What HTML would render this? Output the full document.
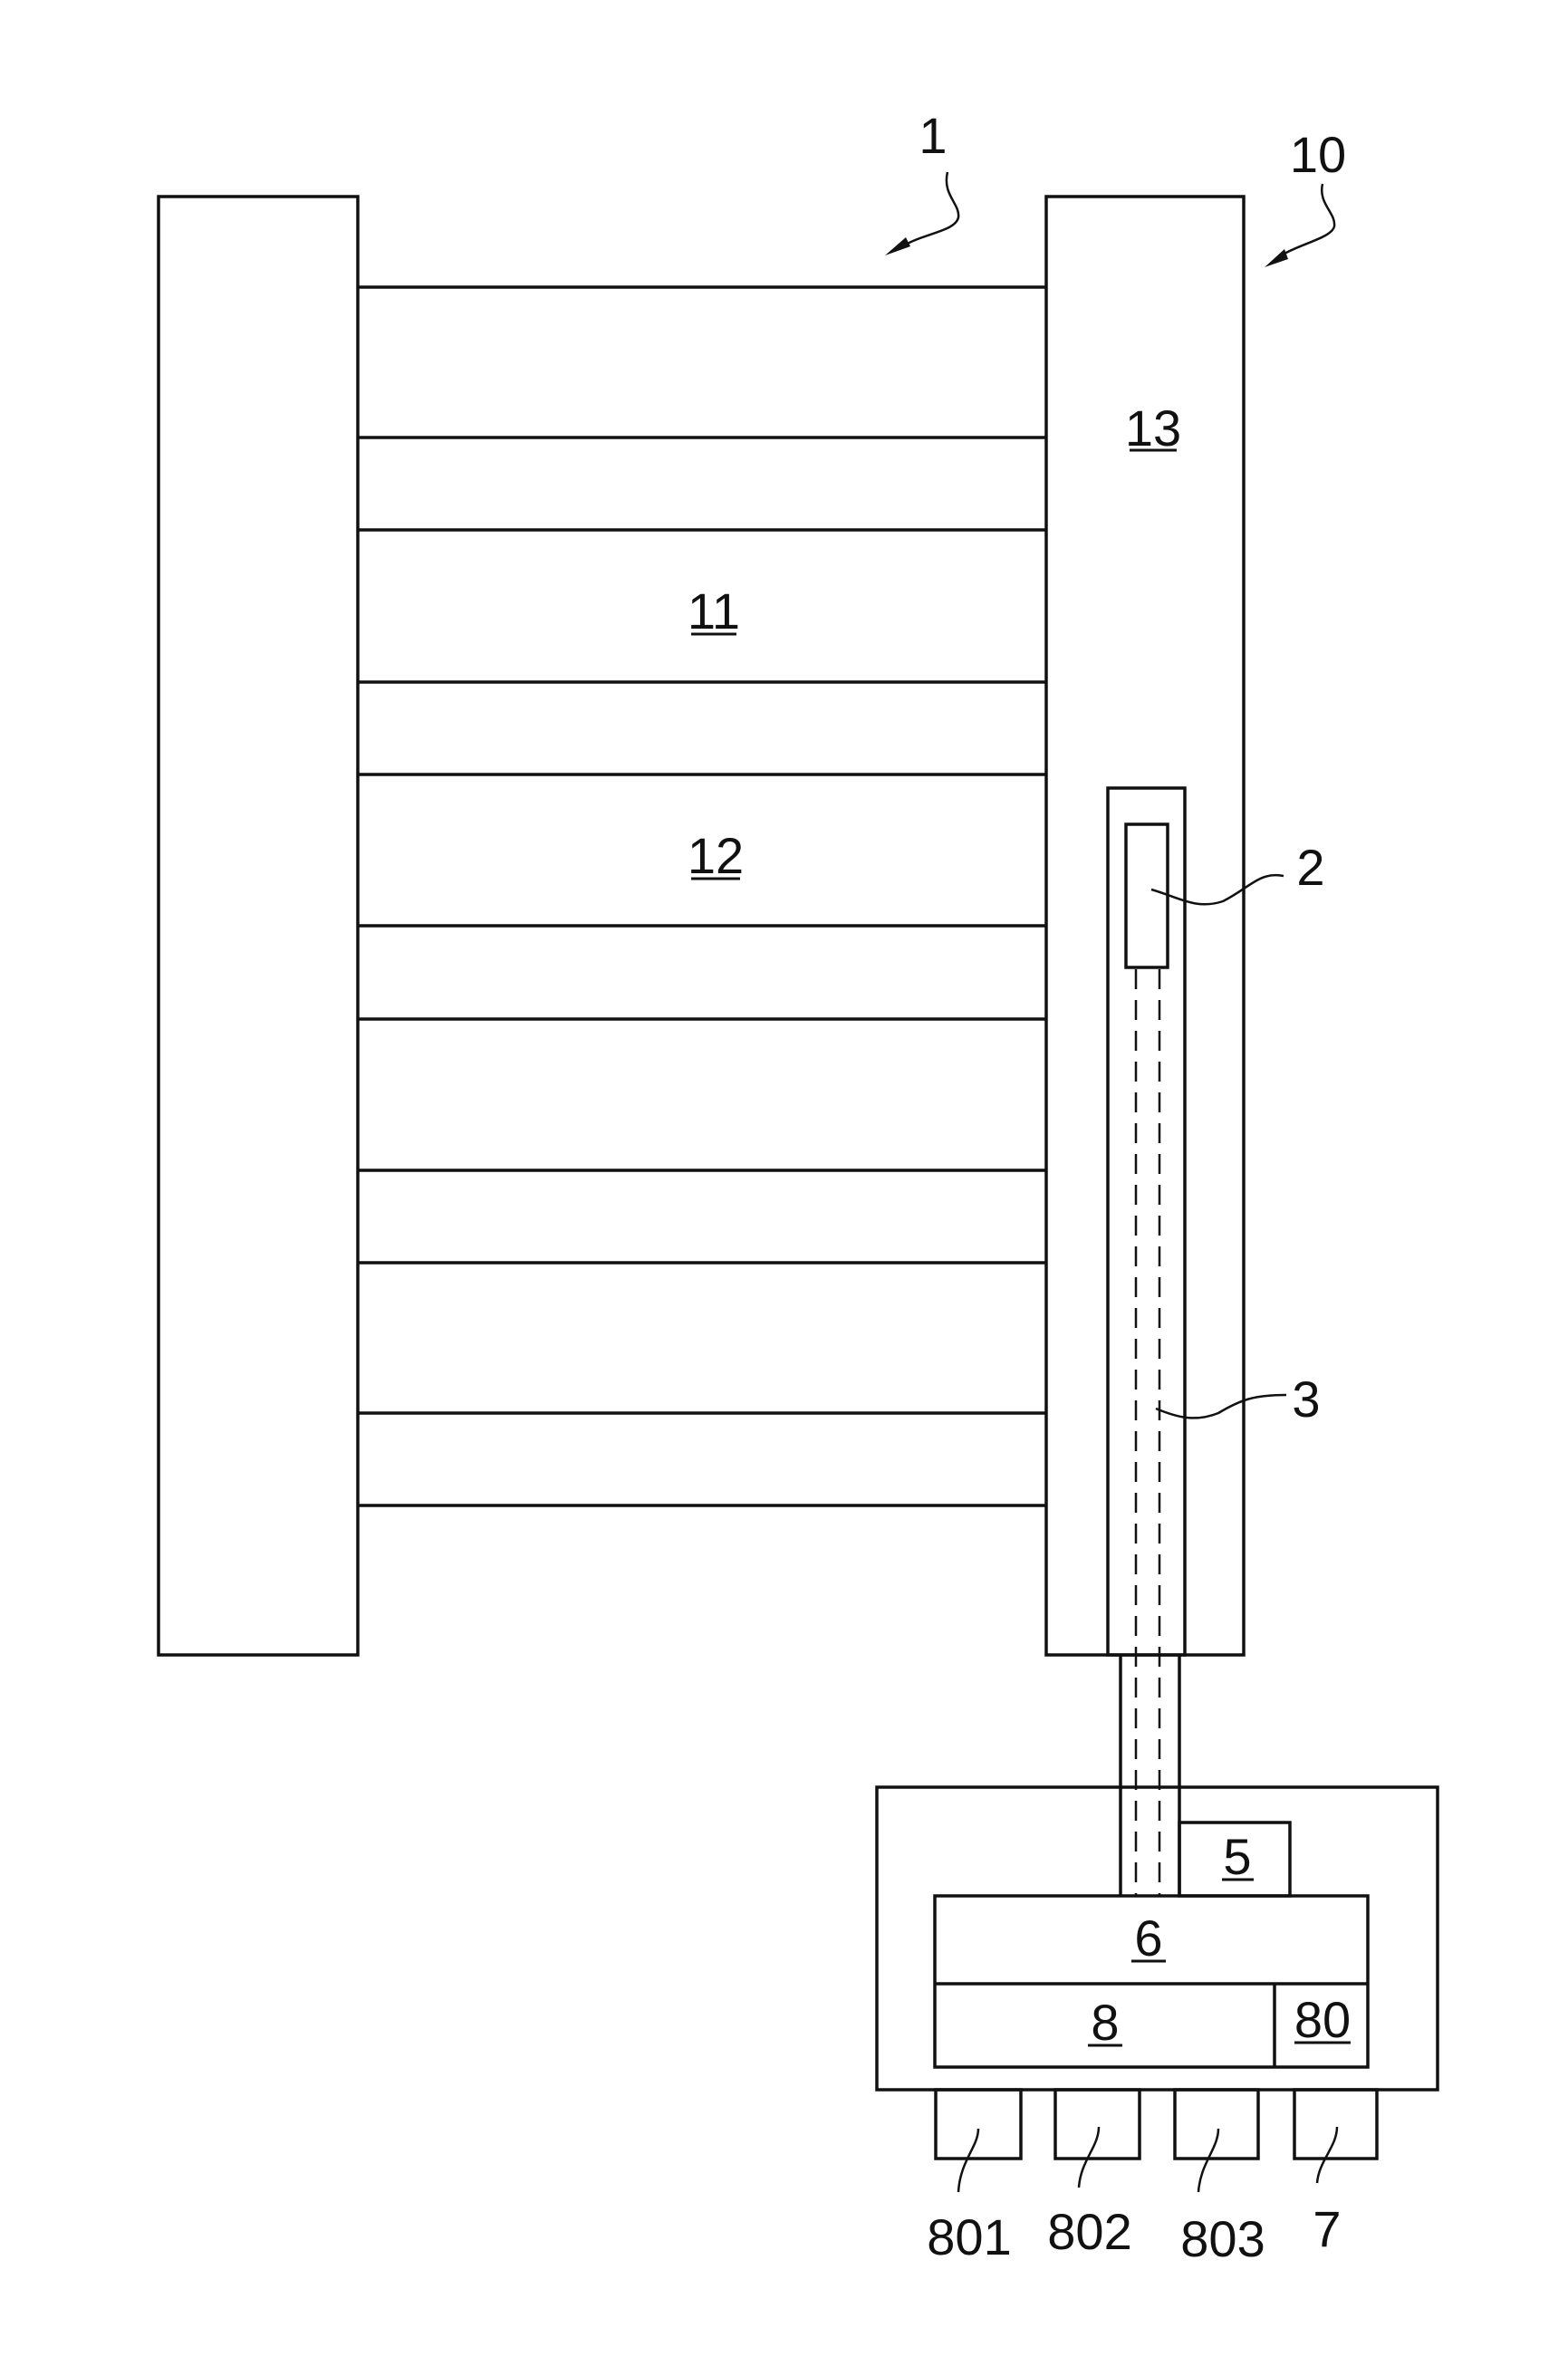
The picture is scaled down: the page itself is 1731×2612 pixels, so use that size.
<!DOCTYPE html>
<html><head><meta charset="utf-8"><style>
html,body{margin:0;padding:0;background:#fff}
svg{display:block}
text{font-family:"Liberation Sans",Arial,sans-serif;font-size:56px;fill:#111}
</style></head><body>
<svg width="1731" height="2612" viewBox="0 0 1731 2612" xmlns="http://www.w3.org/2000/svg">
<g stroke="#111" stroke-width="3.5" fill="none">
<rect x="175" y="217" width="220" height="1610"/>
<rect x="1155" y="217" width="218" height="1610"/>
<g>
<line x1="395" y1="317" x2="1155" y2="317"/>
<line x1="395" y1="483" x2="1155" y2="483"/>
<line x1="395" y1="585" x2="1155" y2="585"/>
<line x1="395" y1="753" x2="1155" y2="753"/>
<line x1="395" y1="855" x2="1155" y2="855"/>
<line x1="395" y1="1022" x2="1155" y2="1022"/>
<line x1="395" y1="1125" x2="1155" y2="1125"/>
<line x1="395" y1="1292" x2="1155" y2="1292"/>
<line x1="395" y1="1394" x2="1155" y2="1394"/>
<line x1="395" y1="1560" x2="1155" y2="1560"/>
<line x1="395" y1="1662" x2="1155" y2="1662"/>
</g>
<rect x="1223" y="870" width="85" height="957"/>
<rect x="1243" y="910" width="46" height="158"/>
<line x1="1237" y1="1827" x2="1237" y2="2093"/>
<line x1="1302" y1="1827" x2="1302" y2="2093"/>
<g stroke-width="2.5" stroke-dasharray="22,12">
<line x1="1254" y1="1070" x2="1254" y2="2093"/>
<line x1="1280" y1="1070" x2="1280" y2="2093"/>
</g>
<rect x="968" y="1973" width="619" height="334"/>
<rect x="1302" y="2012" width="122" height="81"/>
<rect x="1032" y="2093" width="478" height="189"/>
<line x1="1032" y1="2190" x2="1510" y2="2190"/>
<line x1="1407" y1="2190" x2="1407" y2="2282"/>
<rect x="1033" y="2307" width="94" height="76"/>
<rect x="1165" y="2307" width="93" height="76"/>
<rect x="1297" y="2307" width="92" height="76"/>
<rect x="1429" y="2307" width="91" height="76"/>
<g stroke-width="2.5">
<path d="M1271,982 C1300,990 1320,1005 1350,995 C1380,980 1390,962 1417,967"/>
<path d="M1276,1555 C1300,1565 1320,1570 1345,1560 C1370,1545 1385,1540 1420,1540"/>
<path d="M1046,190 C1040,215 1060,225 1058,240 C1055,255 1020,258 1000,270"/>
<path d="M1460,203 C1455,225 1475,235 1473,250 C1470,262 1440,268 1418,280"/>
<path d="M1080,2350 C1080,2370 1060,2385 1058,2420"/>
<path d="M1213,2348 C1213,2370 1193,2385 1191,2415"/>
<path d="M1345,2350 C1345,2372 1325,2388 1323,2420"/>
<path d="M1476,2348 C1476,2370 1456,2385 1454,2410"/>
</g>
</g>
<g fill="#111">
<polygon points="977,282 1000,262 1005,272"/>
<polygon points="1396,295 1418,275 1422,286"/>
</g>
<g text-anchor="middle">
<text x="1030" y="169">1</text>
<text x="1455" y="190">10</text>
<text x="1273" y="492">13</text>
<text x="788" y="694">11</text>
<text x="790" y="964">12</text>
<text x="1447" y="977">2</text>
<text x="1442" y="1564">3</text>
<text x="1366" y="2069">5</text>
<text x="1268" y="2159">6</text>
<text x="1220" y="2252">8</text>
<text x="1460" y="2249">80</text>
<text x="1070" y="2489">801</text>
<text x="1203" y="2483">802</text>
<text x="1350" y="2491">803</text>
<text x="1465" y="2480">7</text>
</g>
<g stroke="#111" stroke-width="3">
<line x1="1247" y1="497" x2="1299" y2="497"/>
<line x1="763" y1="700" x2="813" y2="700"/>
<line x1="763" y1="970" x2="817" y2="970"/>
<line x1="1349" y1="2075" x2="1384" y2="2075"/>
<line x1="1249" y1="2165" x2="1287" y2="2165"/>
<line x1="1201" y1="2258" x2="1239" y2="2258"/>
<line x1="1429" y1="2255" x2="1491" y2="2255"/>
</g>
</svg>
</body></html>
